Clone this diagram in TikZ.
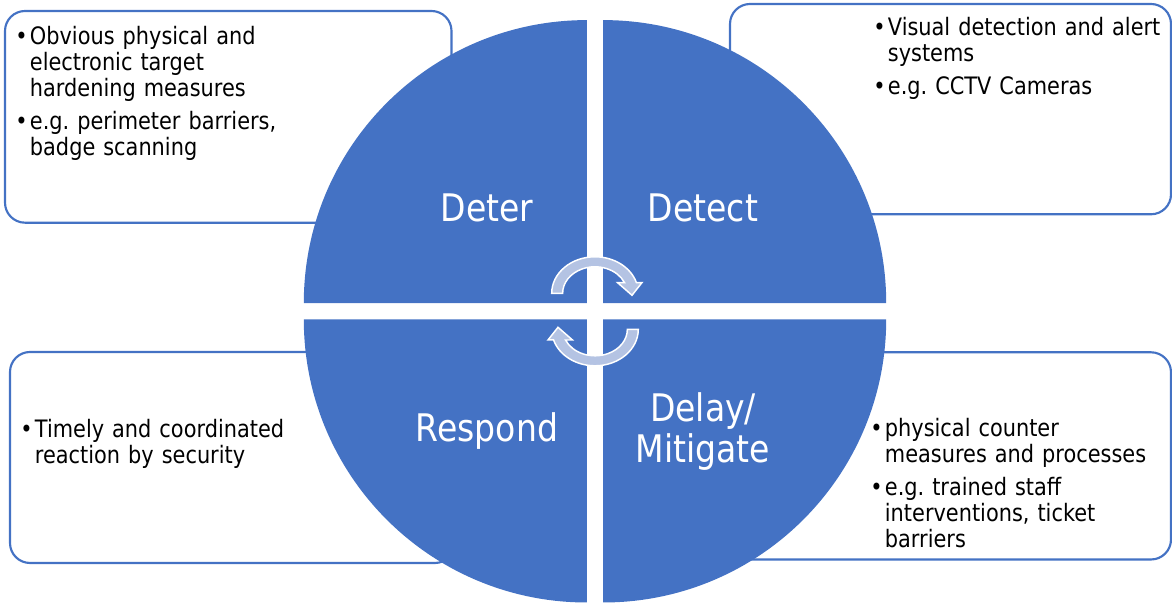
\documentclass[tikz,border=0pt]{standalone}
\usepackage{fontspec}
\setmainfont{DejaVu Sans}[FakeStretch=0.87]

\definecolor{quadblue}{HTML}{4472C4}
\definecolor{cyclefill}{HTML}{B4C3E3}

% one bullet point, its lines set flush under the first
\newcommand{\bpoint}[1]{\noindent\makebox[11pt][l]{\textbullet}\begin{tabular}[t]{@{}l@{}}#1\end{tabular}\par}

\tikzset{
    infobox/.style={draw=quadblue, line width=1.6pt, rounded corners=15pt, fill=white},
    quadrant/.style={fill=quadblue},
    quadlabel/.style={text=white, font=\fontsize{28.5}{31}\selectfont, align=center, inner sep=0pt},
    bullettext/.style={anchor=base west, inner sep=0pt, text width=330pt, align=left,
        font=\fontsize{18}{19.3}\selectfont\frenchspacing, execute at begin node=\setlength{\parskip}{4pt}},
    cyclearrow/.style={fill=cyclefill, draw=white, line width=1.1pt, line join=miter}
}

% curved arrow of the cycle, drawn round its own centre
\newcommand{\cyclepath}{%
    (-43.3,0) arc[start angle=180, end angle=17, x radius=43.3, y radius=36.5]
    -- (47,10.7) -- (37,-2) -- (22.5,10.7) -- (29.5,10.7)
    arc[start angle=23.8, end angle=180, x radius=32.3, y radius=26.5] -- cycle}

\begin{document}
\begin{tikzpicture}[x=0.75pt, y=0.75pt]
    \useasboundingbox (0,0) rectangle (1172,606);

    % Draw the text boxes behind the circle
    \draw[infobox] (5,383.3) rectangle (451.5,595);
    \draw[infobox] (730,391.7) rectangle (1171,602);
    \draw[infobox] (10,43) rectangle (455,254);
    \draw[infobox] (727,46.5) rectangle (1171,253.7);

    % Draw the four quarters
    \fill[quadrant] (586.8,302.9) -- ++(-283,0) arc[start angle=180, end angle=90, radius=283] -- cycle;
    \fill[quadrant] (603.2,302.9) -- ++(0,283) arc[start angle=90, end angle=0, radius=283] -- cycle;
    \fill[quadrant] (586.8,286.5) -- ++(0,-283) arc[start angle=270, end angle=180, radius=283] -- cycle;
    \fill[quadrant] (603.2,286.5) -- ++(283,0) arc[start angle=0, end angle=-90, radius=283] -- cycle;

    % Draw the cycle arrows
    \begin{scope}[shift={(595,312.7)}]
        \filldraw[cyclearrow] \cyclepath;
    \end{scope}
    \begin{scope}[shift={(595,276.7)}, rotate=180]
        \filldraw[cyclearrow] \cyclepath;
    \end{scope}

    % Quarter labels
    \node[quadlabel, anchor=base] (deter) at (487,384) {Deter};
    \node[quadlabel, anchor=base] (detect) at (703,384) {Detect};
    \node[quadlabel, anchor=base] (respond) at (487,164.5) {Respond};
    \node[quadlabel, anchor=base] (delay) at (703,143.6) {Delay/\\Mitigate};

    % Box texts
    \node[bullettext] (detertext) at (15,561) {%
        \bpoint{Obvious physical and\\electronic target\\hardening measures}%
        \bpoint{e.g. perimeter barriers,\\badge scanning}};
    \node[bullettext] (detecttext) at (873,570) {%
        \bpoint{Visual detection and alert\\systems}%
        \bpoint{e.g. CCTV Cameras}};
    \node[bullettext] (respondtext) at (20,168.7) {%
        \bpoint{Timely and coordinated\\reaction by security}};
    \node[bullettext] (delaytext) at (870,169.3) {%
        \bpoint{physical counter\\measures and processes}%
        \bpoint{e.g. trained staff\\interventions, ticket\\barriers}};
\end{tikzpicture}
\end{document}
